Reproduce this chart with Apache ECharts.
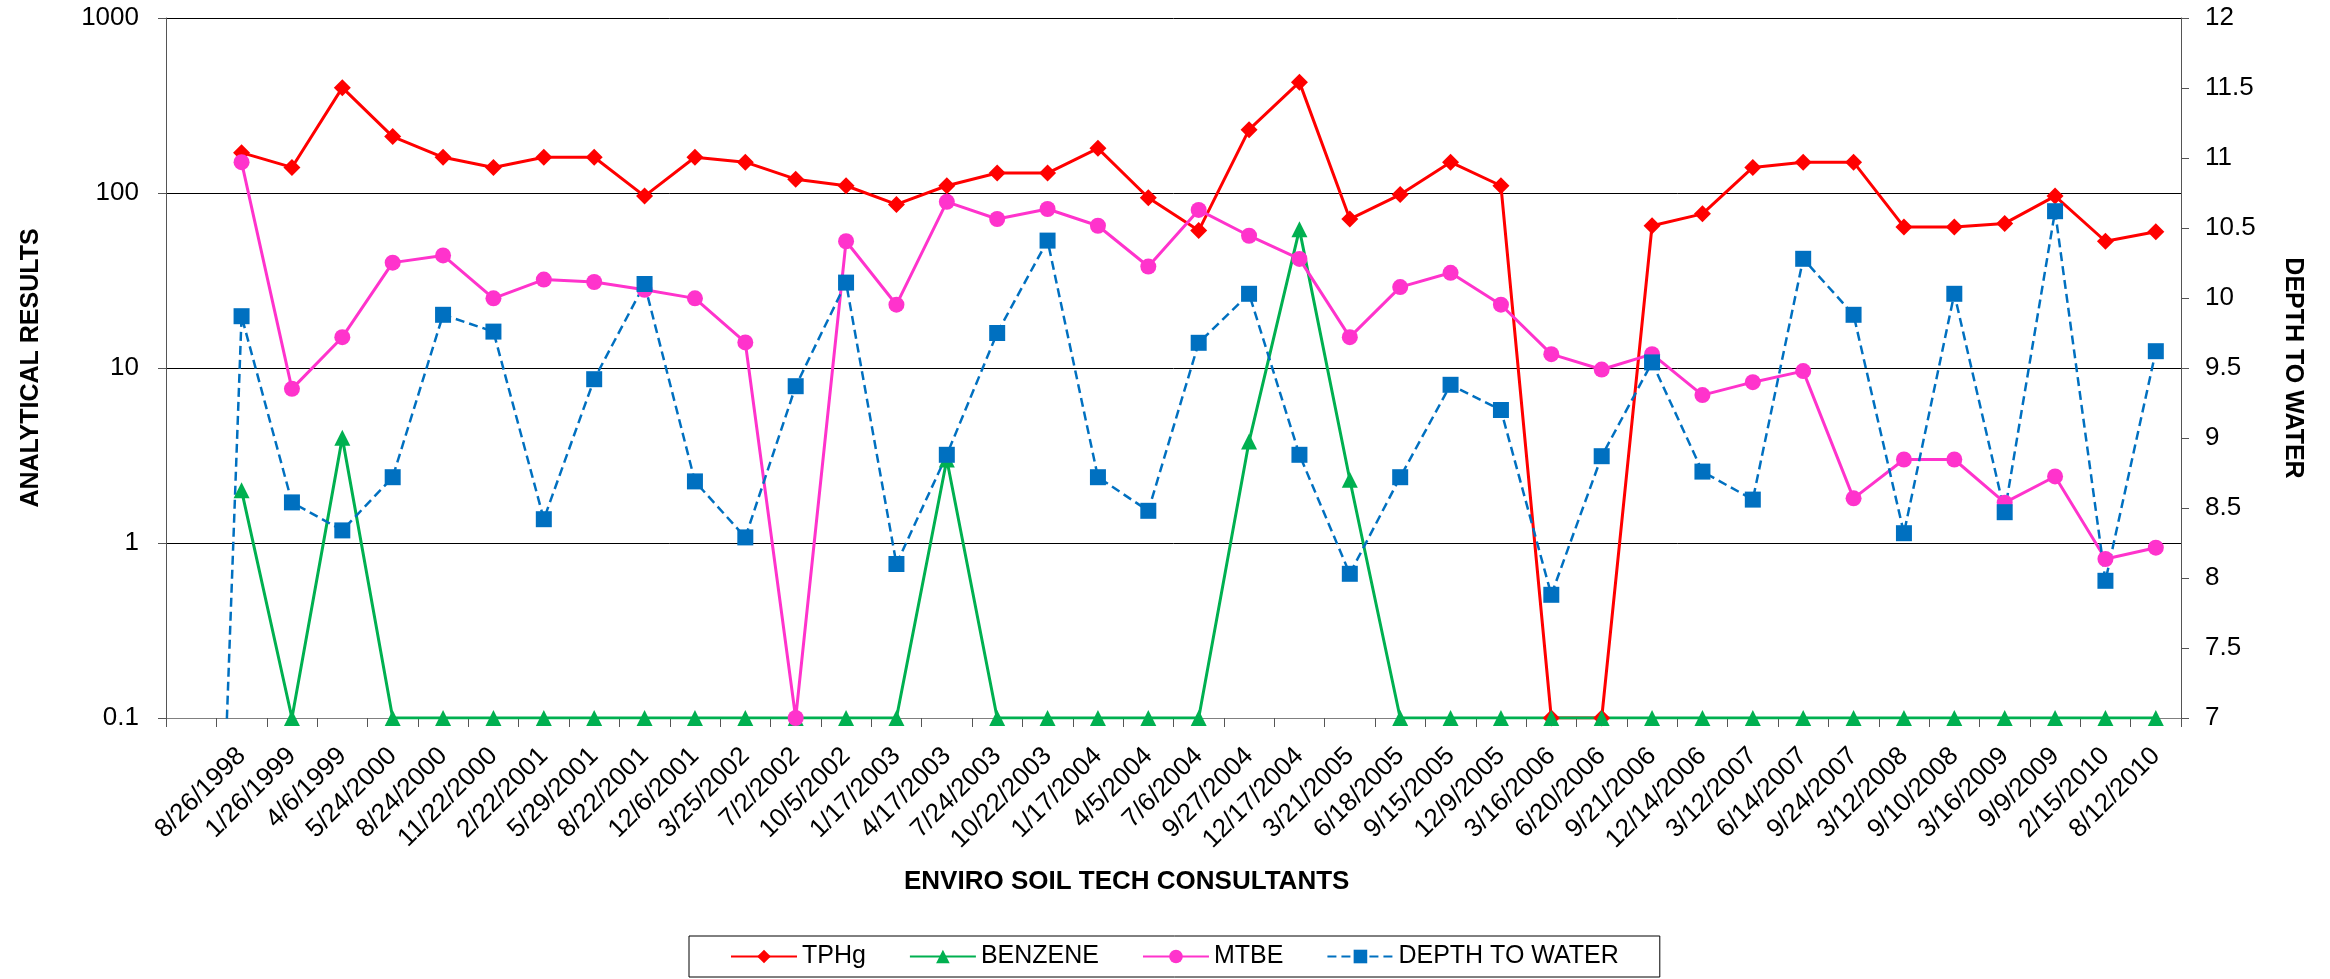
<!DOCTYPE html>
<html>
<head>
<meta charset="utf-8">
<script src="https://cdn.jsdelivr.net/npm/echarts@6/dist/echarts.min.js"></script>
<style>
  html, body { margin: 0; padding: 0; background: #fff; }
  #chart { width: 2330px; height: 979px; }
</style>
</head>
<body>
<div id="chart"></div>
<script>
  // sampling dates (first slot has no label, only a depth reading below the scale)
  const dates = ['', '8/26/1998', '1/26/1999', '4/6/1999', '5/24/2000', '8/24/2000', '11/22/2000',
    '2/22/2001', '5/29/2001', '8/22/2001', '12/6/2001', '3/25/2002', '7/2/2002', '10/5/2002',
    '1/17/2003', '4/17/2003', '7/24/2003', '10/22/2003', '1/17/2004', '4/5/2004', '7/6/2004',
    '9/27/2004', '12/17/2004', '3/21/2005', '6/18/2005', '9/15/2005', '12/9/2005', '3/16/2006',
    '6/20/2006', '9/21/2006', '12/14/2006', '3/12/2007', '6/14/2007', '9/24/2007', '3/12/2008',
    '9/10/2008', '3/16/2009', '9/9/2009', '2/15/2010', '8/12/2010'];

  const tphg = [null, 170, 140, 400, 210, 160, 140, 160, 160, 96, 160, 150, 120, 110, 86, 110,
    130, 130, 180, 94, 61, 230, 430, 71, 98, 150, 110, 0.1, 0.1, 65, 76, 140, 150, 150, 64, 64,
    67, 96, 53, 60];
  const benzene = [null, 2, 0.1, 4, 0.1, 0.1, 0.1, 0.1, 0.1, 0.1, 0.1, 0.1, 0.1, 0.1, 0.1, 3,
    0.1, 0.1, 0.1, 0.1, 0.1, 3.8, 62, 2.3, 0.1, 0.1, 0.1, 0.1, 0.1, 0.1, 0.1, 0.1, 0.1, 0.1, 0.1,
    0.1, 0.1, 0.1, 0.1, 0.1];
  const mtbe = [null, 150, 7.6, 15, 40, 44, 25, 32, 31, 28, 25, 14, 0.1, 53, 23, 89, 71, 81, 65,
    38, 80, 57, 42, 15, 29, 35, 23, 12, 9.8, 12, 7, 8.3, 9.6, 1.8, 3, 3, 1.7, 2.4, 0.81, 0.94];
  const depth = [0, 9.87, 8.54, 8.34, 8.72, 9.88, 9.76, 8.42, 9.42, 10.1, 8.69, 8.29, 9.37, 10.11,
    8.10, 8.88, 9.75, 10.41, 8.72, 8.48, 9.68, 10.03, 8.88, 8.03, 8.72, 9.38, 9.2, 7.88, 8.87, 9.54,
    8.76, 8.56, 10.28, 9.88, 8.32, 10.03, 8.47, 10.62, 7.98, 9.62];

  const FONT = '"Liberation Sans", Arial, sans-serif';

  let myChart = echarts.init(document.getElementById('chart'));
  myChart.setOption({
    backgroundColor: '#fff',
    animation: false,
    textStyle: { fontFamily: FONT, color: '#000' },
    title: {
      text: 'ENVIRO SOIL TECH CONSULTANTS',
      left: 904,
      top: 869,
      padding: 0,
      textStyle: { fontSize: 26, fontWeight: 'bold', color: '#000', fontFamily: FONT }
    },
    legend: {
      left: 689,
      top: 936,
      padding: [8, 41],
      itemGap: 43,
      itemWidth: 66,
      itemHeight: 17,
      borderColor: '#000',
      borderWidth: 1,
      textStyle: { fontSize: 25, color: '#000', fontFamily: FONT },
      data: ['TPHg', 'BENZENE', 'MTBE', 'DEPTH TO WATER']
    },
    grid: { left: 166, right: 149, top: 18, bottom: 261 },
    xAxis: {
      type: 'category',
      data: dates,
      boundaryGap: true,
      axisLine: { lineStyle: { color: '#808080', width: 1 } },
      axisTick: { show: true, interval: 0, length: 9, lineStyle: { color: '#555' } },
      axisLabel: { interval: 0, rotate: 45, margin: 34, fontSize: 26, color: '#000', fontFamily: FONT }
    },
    yAxis: [
      {
        type: 'log',
        logBase: 10,
        min: 0.1,
        max: 1000,
        name: 'ANALYTICAL RESULTS',
        nameLocation: 'middle',
        nameGap: 122,
        nameTextStyle: { fontSize: 25, fontWeight: 'bold', color: '#000', fontFamily: FONT },
        axisLine: { show: true, lineStyle: { color: '#555' } },
        axisTick: { show: true, length: 8, lineStyle: { color: '#555' } },
        axisLabel: {
          fontSize: 26, color: '#000', margin: 27, fontFamily: FONT,
          formatter: function (v) { return String(v); }
        },
        splitLine: { show: true, lineStyle: { color: '#000', width: 1 } }
      },
      {
        type: 'value',
        min: 7,
        max: 12,
        interval: 0.5,
        position: 'right',
        name: 'DEPTH TO WATER',
        nameLocation: 'middle',
        nameRotate: -90,
        nameGap: 99,
        nameTextStyle: { fontSize: 25, fontWeight: 'bold', color: '#000', fontFamily: FONT },
        axisLine: { show: true, lineStyle: { color: '#555' } },
        axisTick: { show: true, length: 8, lineStyle: { color: '#555' } },
        axisLabel: { fontSize: 26, color: '#000', margin: 24, fontFamily: FONT },
        splitLine: { show: false }
      }
    ],
    series: [
      {
        name: 'TPHg',
        type: 'line',
        data: tphg,
        symbol: 'diamond',
        symbolSize: 17,
        color: '#FF0000',
        lineStyle: { width: 3, color: '#FF0000' },
        itemStyle: { color: '#FF0000' }
      },
      {
        name: 'BENZENE',
        type: 'line',
        data: benzene,
        symbol: 'triangle',
        symbolSize: 16,
        color: '#00B050',
        lineStyle: { width: 3, color: '#00B050' },
        itemStyle: { color: '#00B050' }
      },
      {
        name: 'MTBE',
        type: 'line',
        data: mtbe,
        symbol: 'circle',
        symbolSize: 16,
        color: '#FF33CC',
        lineStyle: { width: 3, color: '#FF33CC' },
        itemStyle: { color: '#FF33CC' }
      },
      {
        name: 'DEPTH TO WATER',
        type: 'line',
        yAxisIndex: 1,
        data: depth,
        symbol: 'rect',
        symbolSize: 16,
        color: '#0070C0',
        lineStyle: { width: 2.5, type: [9, 5], color: '#0070C0' },
        itemStyle: { color: '#0070C0' }
      }
    ]
  });
</script>
</body>
</html>
